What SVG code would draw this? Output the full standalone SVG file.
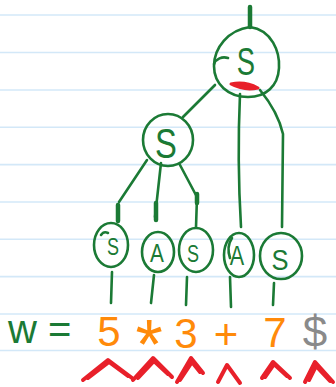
<svg xmlns="http://www.w3.org/2000/svg" width="336" height="387" viewBox="0 0 336 387">
<style>
.rule{stroke:#d3e8f8;stroke-width:1.6}
.g{fill:none;stroke:#1b7a35;stroke-width:2.6;stroke-linecap:round;stroke-linejoin:round}
.stub{fill:none;stroke:#1b7a35;stroke-width:4.5;stroke-linecap:round}
.lbl{font-family:"Liberation Sans",Arial,sans-serif;fill:#1b7a35;text-anchor:middle}
.tok{font-family:"Liberation Sans",Arial,sans-serif;fill:#ff8a0a;text-anchor:middle;font-size:42px}
.car{fill:none;stroke:#e8202a;stroke-width:4;stroke-linecap:round;stroke-linejoin:round}
</style>
<rect width="336" height="387" fill="#ffffff"/>
<g id="paper">
<line class="rule" x1="0" y1="15" x2="336" y2="15"/>
<line class="rule" x1="0" y1="52.5" x2="336" y2="52.5"/>
<line class="rule" x1="0" y1="90" x2="336" y2="90"/>
<line class="rule" x1="0" y1="127.3" x2="336" y2="127.3"/>
<line class="rule" x1="0" y1="164.6" x2="336" y2="164.6"/>
<line class="rule" x1="0" y1="202" x2="336" y2="202"/>
<line class="rule" x1="0" y1="239.3" x2="336" y2="239.3"/>
<line class="rule" x1="0" y1="276.6" x2="336" y2="276.6"/>
<line class="rule" x1="0" y1="314" x2="336" y2="314"/>
<line class="rule" x1="0" y1="350.5" x2="336" y2="350.5"/>
</g>
<g id="connectors">
<path class="g" d="M215 85 L183 117"/>
<path class="g" d="M240 94 Q237 160 241 227"/>
<path class="g" d="M260 90 Q278 112 283 134 L282 227"/>
<path class="g" d="M147 160 L119 202"/>
<path class="g" d="M161 163 L155 217"/>
<path class="g" d="M180 165 L197 197 L196 227"/>
<path class="g" d="M112 272 L111 303"/>
<path class="g" d="M154 275 L151 303"/>
<path class="g" d="M187 277 L186 305"/>
<path class="g" d="M230 277 L231 307"/>
<path class="g" d="M274 283 L273 305"/>
<path class="stub" d="M250 7 L250 27"/>
<path class="stub" d="M118 205 L118 221"/>
<path class="stub" d="M156 203 L156 220"/>
<path class="stub" d="M197 194 L197 203"/>
</g>
<g id="node-root">
<path class="g" d="M250 27 C272 30 280 52 279 68 C278 86 266 97 248 97 C228 97 214 84 214 66 C214 48 228 30 250 27 Z"/>
<path class="g" d="M228 58 C222 56 216 59 214 64"/>
<path d="M231 84 Q245 81 258 88 Q244 91 231 84 Z" fill="#e8202a" stroke="#e8202a" stroke-width="3" stroke-linejoin="round"/>
<text class="lbl" x="246" y="75" font-size="38" transform="translate(246 0) scale(0.72 1) translate(-246 0)">S</text>
</g>
<g id="node-s-mid">
<ellipse class="g" cx="168" cy="140" rx="25" ry="26"/>
<text class="lbl" x="166" y="158" font-size="42" transform="translate(166 0) scale(0.78 1) translate(-166 0)">S</text>
</g>
<g id="node-s1">
<ellipse class="g" cx="111" cy="245" rx="17" ry="22"/>
<path class="g" d="M101 235 C103 232 106 232 108 233"/>
<text class="lbl" x="113" y="255" font-size="24" transform="translate(113 0) scale(0.75 1) translate(-113 0)">S</text>
</g>
<g id="node-a1">
<ellipse class="g" cx="158" cy="252" rx="16" ry="20"/>
<text class="lbl" x="157" y="262" font-size="26" transform="translate(157 0) scale(0.8 1) translate(-157 0)">A</text>
</g>
<g id="node-s2">
<ellipse class="g" cx="196" cy="250" rx="17" ry="22"/>
<text class="lbl" x="193" y="262" font-size="24" transform="translate(193 0) scale(0.75 1) translate(-193 0)">S</text>
</g>
<g id="node-a2">
<ellipse class="g" cx="239" cy="255" rx="15" ry="22"/>
<path class="g" d="M232 238 C228 244 228 252 230 258"/>
<text class="lbl" x="237" y="265" font-size="27" transform="translate(237 0) scale(0.8 1) translate(-237 0)">A</text>
</g>
<g id="node-s3">
<ellipse class="g" cx="281" cy="256" rx="21" ry="23"/>
<text class="lbl" x="280" y="270" font-size="30" transform="translate(280 0) scale(0.85 1) translate(-280 0)">S</text>
</g>
<g id="input">
<text x="8" y="343" font-family="'Liberation Sans',Arial,sans-serif" font-size="40" fill="#1b7a35">w =</text>
<text class="tok" x="109" y="346">5</text>
<text class="tok" x="149" y="369" style="font-size:70px">*</text>
<text class="tok" x="186" y="348">3</text>
<text class="tok" x="226" y="349">+</text>
<text class="tok" x="275" y="347">7</text>
<text x="315" y="347" font-family="'Liberation Sans',Arial,sans-serif" font-size="44" fill="#8a8a8a" text-anchor="middle">$</text>
</g>
<g id="carets">
<path class="car" d="M83 380 L108 360 L132 378 M88 378 L109 362 L128 376"/>
<path class="car" d="M133 380 L153 358 L172 377 M138 378 L154 361 L168 374"/>
<path class="car" d="M177 382 L191 358 L203 373 M180 380 L192 362 L200 372"/>
<path class="car" d="M218 382 L227 365 L240 383"/>
<path class="car" d="M262 378 L273 362 L290 378 M265 377 L274 364 L287 376"/>
<path class="car" d="M305 382 L315 362 L333 382 M309 380 L316 366 L330 381"/>
</g>
</svg>
